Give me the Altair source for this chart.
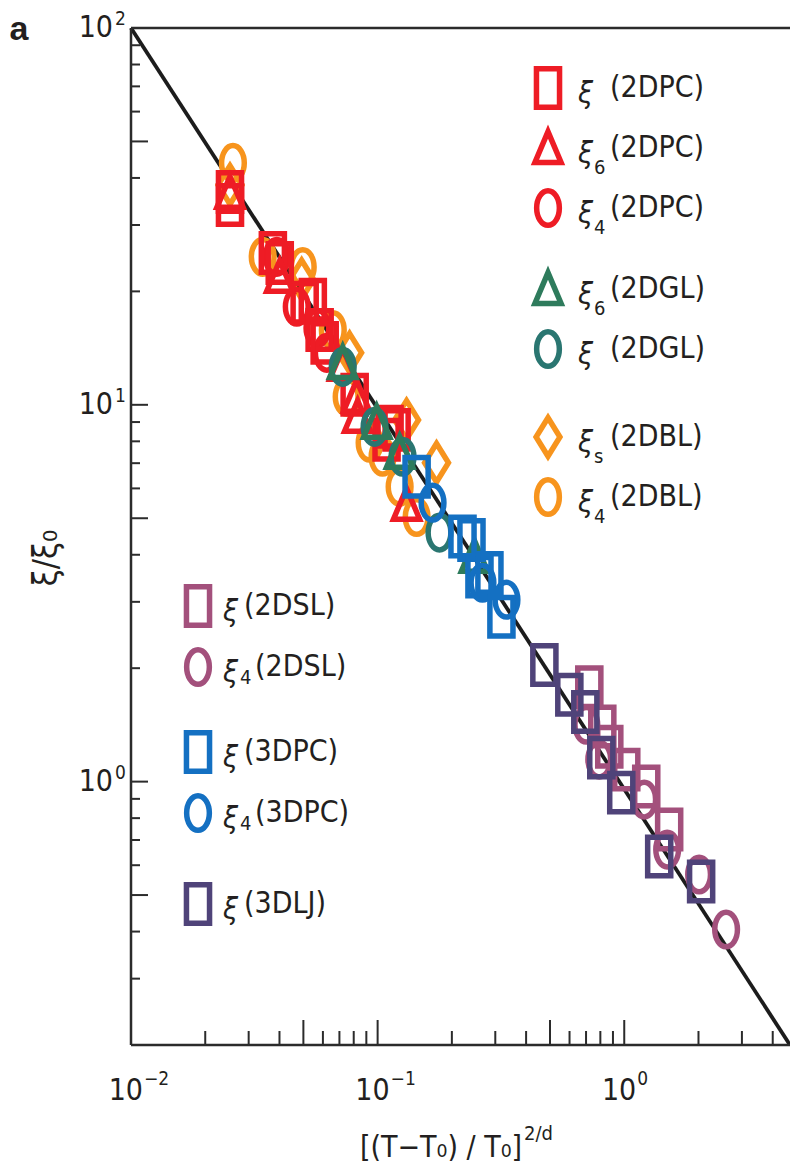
import altair as alt
import pandas as pd

# ---------------- data ----------------
LINE_X = [0.01, 4.7]
LINE_Y = [100.0, 0.2]

PC2_SQ_X = [0.0252, 0.0252, 0.0376, 0.0401, 0.0506, 0.0546, 0.0582, 0.0610, 0.0807, 0.1087, 0.1118, 0.1194]
PC2_SQ_Y = [36.7, 33.9, 25.3, 23.8, 18.65, 19.0, 15.8, 14.6, 10.63, 8.08, 8.74, 8.58]
PC2_TRI_X = [0.0252, 0.0401, 0.0722, 0.0822, 0.0830, 0.1310]
PC2_TRI_Y = [36.5, 21.85, 12.76, 10.5, 9.29, 5.43]
PC2_CIR_X = [0.0390, 0.0470, 0.0570, 0.0622]
PC2_CIR_Y = [24.7, 18.2, 16.0, 13.74]

GL2_TRI_X = [0.0722, 0.0991, 0.1228, 0.2470]
GL2_TRI_Y = [12.9, 8.96, 7.46, 3.95]
GL2_CIR_X = [0.0722, 0.0972, 0.1262, 0.1782]
GL2_CIR_Y = [12.61, 8.74, 7.28, 4.58]

BL2_DIA_X = [0.0252, 0.0492, 0.0770, 0.1310, 0.1733]
BL2_DIA_Y = [38.3, 21.5, 13.74, 9.12, 7.02]
BL2_CIR_X = [0.0259, 0.0342, 0.0497, 0.0658, 0.0749, 0.0928, 0.1047, 0.1228, 0.1439]
BL2_CIR_Y = [43.85, 24.7, 23.2, 15.8, 10.5, 7.93, 7.28, 6.06, 5.04]

PC3_SQ_X = [0.1439, 0.2209, 0.2402, 0.2588, 0.2840, 0.3177]
PC3_SQ_Y = [6.44, 4.47, 4.38, 3.50, 3.58, 2.74]
PC3_CIR_X = [0.1670, 0.2661, 0.3330]
PC3_CIR_Y = [5.50, 3.37, 3.04]

SL2_SQ_X = [0.7217, 0.8147, 0.8696, 1.019, 1.228, 1.521]
SL2_SQ_Y = [1.78, 1.40, 1.238, 1.076, 0.970, 0.746]
SL2_CIR_X = [0.7018, 0.792, 1.205, 1.493, 2.012, 2.588]
SL2_CIR_Y = [1.416, 1.144, 0.896, 0.660, 0.567, 0.405]

LJ3_SQ_X = [0.4744, 0.5989, 0.6953, 0.8072, 0.9725, 1.386, 2.050]
LJ3_SQ_Y = [2.04, 1.70, 1.53, 1.158, 0.935, 0.633, 0.543]

X_LABEL_VALUES = [0.01, 0.1, 1.0]
X_LABEL_EXP = ["\u22122", "\u22121", "0"]
Y_LABEL_VALUES = [100.0, 10.0, 1.0]
Y_LABEL_EXP = ["2", "1", "0"]

TOP_LEG_SHAPE = ["square", "triangle", "circle", "triangle", "circle", "diamond", "circle"]
TOP_LEG_SUB = ["", "6", "4", "6", "", "s", "4"]
TOP_LEG_NAME = ["(2DPC)", "(2DPC)", "(2DPC)", "(2DGL)", "(2DGL)", "(2DBL)", "(2DBL)"]
BOT_LEG_SHAPE = ["square", "circle", "square", "circle", "square"]
BOT_LEG_SUB = ["", "4", "", "4", ""]
BOT_LEG_NAME = ["(2DSL)", "(2DSL)", "(3DPC)", "(3DPC)", "(3DLJ)"]

# ---------------- styles ----------------
RED = "#ee1c25"
GREEN = "#2e7b5c"
TEAL = "#2a7671"
ORANGE = "#f7941d"
BLUE = "#1470c2"
MAUVE = "#a3507c"
DPURP = "#4f4379"
TOP_LEG_COLOR = [RED, RED, RED, GREEN, TEAL, ORANGE, ORANGE]
BOT_LEG_COLOR = [MAUVE, MAUVE, BLUE, BLUE, DPURP]

FONT = "Liberation Sans Narrow, DejaVu Sans Condensed, sans-serif"
TXT = "#231f20"
AX = "#2b2b2b"

W, H = 659, 1017
SYM_SIZE = 1480
SW = 5.5

SHAPES = {
    "square": "M-0.6,-1L0.6,-1L0.6,1L-0.6,1Z",
    "circle": "M0,-0.9C0.326,-0.9,0.59,-0.497,0.59,0C0.59,0.497,0.326,0.9,0,0.9"
              "C-0.326,0.9,-0.59,0.497,-0.59,0C-0.59,-0.497,-0.326,-0.9,0,-0.9Z",
    "triangle": "M0,-0.85L0.68,0.75L-0.68,0.75Z",
    "diamond": "M0,-1L0.62,0L0,1L-0.62,0Z",
}

xs = alt.Scale(type="log", domain=[0.01, 4.7], nice=False)
ys = alt.Scale(type="log", domain=[0.2, 100], nice=False)

one = pd.DataFrame({"k": [0]})

layers = []

# power law line
line_df = pd.DataFrame({"x": LINE_X, "y": LINE_Y})
layers.append(
    alt.Chart(line_df).mark_line(color="#1c1c1c", strokeWidth=3.8).encode(
        x=alt.X("x:Q", scale=xs, axis=None),
        y=alt.Y("y:Q", scale=ys, axis=None),
    )
)

series = [
    (BL2_CIR_X, BL2_CIR_Y, "circle", ORANGE),
    (BL2_DIA_X, BL2_DIA_Y, "diamond", ORANGE),
    (PC2_CIR_X, PC2_CIR_Y, "circle", RED),
    (PC2_SQ_X, PC2_SQ_Y, "square", RED),
    (PC2_TRI_X, PC2_TRI_Y, "triangle", RED),
    (GL2_CIR_X, GL2_CIR_Y, "circle", TEAL),
    (GL2_TRI_X, GL2_TRI_Y, "triangle", GREEN),
    (PC3_CIR_X, PC3_CIR_Y, "circle", BLUE),
    (PC3_SQ_X, PC3_SQ_Y, "square", BLUE),
    (SL2_CIR_X, SL2_CIR_Y, "circle", MAUVE),
    (SL2_SQ_X, SL2_SQ_Y, "square", MAUVE),
    (LJ3_SQ_X, LJ3_SQ_Y, "square", DPURP),
]
for sx, sy, shp, col in series:
    df = pd.DataFrame({"x": sx, "y": sy})
    layers.append(
        alt.Chart(df).mark_point(filled=False, opacity=1, strokeWidth=SW,
                                 size=SYM_SIZE, shape=SHAPES[shp], color=col).encode(
            x=alt.X("x:Q", scale=xs, axis=None),
            y=alt.Y("y:Q", scale=ys, axis=None),
        )
    )

# frame: top, left and bottom lines
layers.append(
    alt.Chart(one).mark_rule(color=AX, strokeWidth=2.5).encode(
        x=alt.value(0), x2=alt.value(W), y=alt.value(0))
)
layers.append(
    alt.Chart(one).mark_rule(color=AX, strokeWidth=2.5).encode(
        x=alt.value(0), x2=alt.value(W), y=alt.value(H))
)
layers.append(
    alt.Chart(one).mark_rule(color=AX, strokeWidth=2.5).encode(
        x=alt.value(0), y=alt.value(0), y2=alt.value(H))
)

# inward ticks
def decade_ticks(lo, hi, mults):
    out = []
    for e in range(-3, 3):
        for m in mults:
            v = m * 10.0 ** e
            if lo * 1.001 < v < hi * 0.999:
                out.append(v)
    return out

xt_long = decade_ticks(0.01, 4.7, [1, 5])
xt_short = decade_ticks(0.01, 4.7, [2, 3, 4, 6, 7, 8, 9])
yt_long = decade_ticks(0.2, 100, [1, 5])
yt_short = decade_ticks(0.2, 100, [2, 3, 4, 6, 7, 8, 9])

for vals, ln in [(xt_long, 25), (xt_short, 14)]:
    layers.append(
        alt.Chart(pd.DataFrame({"v": vals})).mark_rule(color=AX, strokeWidth=2).encode(
            x=alt.X("v:Q", scale=xs, axis=None),
            y=alt.value(H), y2=alt.value(H - ln),
        )
    )
for vals, ln in [(yt_long, 17), (yt_short, 9)]:
    layers.append(
        alt.Chart(pd.DataFrame({"v": vals})).mark_rule(color=AX, strokeWidth=2).encode(
            y=alt.Y("v:Q", scale=ys, axis=None),
            x=alt.value(0), x2=alt.value(ln),
        )
    )

# tick labels (10 with superscript exponent)
xl_df = pd.DataFrame({"v": X_LABEL_VALUES, "sup": X_LABEL_EXP})
layers.append(
    alt.Chart(xl_df).mark_text(align="right", baseline="middle", dx=12, fontSize=30,
                               font=FONT, color=TXT).encode(
        x=alt.X("v:Q", scale=xs, axis=None), y=alt.value(H + 46), text=alt.value("10"))
)
layers.append(
    alt.Chart(xl_df).mark_text(align="left", baseline="middle", dx=13, fontSize=19,
                               font=FONT, color=TXT).encode(
        x=alt.X("v:Q", scale=xs, axis=None), y=alt.value(H + 34), text="sup:N")
)
yl_df = pd.DataFrame({"v": Y_LABEL_VALUES, "sup": Y_LABEL_EXP})
layers.append(
    alt.Chart(yl_df).mark_text(align="right", baseline="middle", fontSize=30,
                               font=FONT, color=TXT).encode(
        y=alt.Y("v:Q", scale=ys, axis=None), x=alt.value(-18), text=alt.value("10"))
)
layers.append(
    alt.Chart(yl_df).mark_text(align="left", baseline="middle", dy=-9, fontSize=19,
                               font=FONT, color=TXT).encode(
        y=alt.Y("v:Q", scale=ys, axis=None), x=alt.value(-16), text="sup:N")
)

# axis titles and panel letter
def label(text, x, y, size, align="center", angle=None, style=None, weight=None, font=FONT):
    kw = dict(align=align, baseline="middle", fontSize=size, font=font, color=TXT)
    if angle is not None:
        kw["angle"] = angle
    if style:
        kw["fontStyle"] = style
    if weight:
        kw["fontWeight"] = weight
    return alt.Chart(one).mark_text(**kw).encode(
        x=alt.value(x), y=alt.value(y), text=alt.value(text))

layers.append(label("[(T\u2212T\u2080) / T\u2080]", 391, 1120, 30, align="right"))
layers.append(label("2/d", 393, 1106, 20, align="left"))
layers.append(label("\u03be/\u03be\u2080", -84, 530, 34, angle=270))
layers.append(label("a", -112, 2, 34, weight="bold", font="Liberation Sans, sans-serif"))

# custom legends
def legend(shapes, colors, subs, names, ys_pix, sym_x, xi_x, sub_x, sub_dy, name_x, name_x_sub):
    df = pd.DataFrame({
        "path": [SHAPES[s] for s in shapes],
        "col": colors,
        "sub": subs,
        "name": names,
        "ly": ys_pix,
        "nx": [name_x_sub if s else name_x for s in subs],
    })
    out = []
    out.append(alt.Chart(df).mark_point(filled=False, opacity=1, strokeWidth=SW, size=SYM_SIZE).encode(
        x=alt.value(sym_x), y=alt.Y("ly:Q", scale=None),
        shape=alt.Shape("path:N", scale=None, legend=None),
        color=alt.Color("col:N", scale=None, legend=None)))
    out.append(alt.Chart(df).mark_text(align="left", baseline="middle", fontSize=30, font=FONT,
                                       fontStyle="italic", color=TXT, dy=6).encode(
        x=alt.value(xi_x), y=alt.Y("ly:Q", scale=None), text=alt.value("\u03be")))
    out.append(alt.Chart(df).mark_text(align="left", baseline="middle", fontSize=20, font=FONT,
                                       color=TXT, dy=sub_dy).encode(
        x=alt.value(sub_x), y=alt.Y("ly:Q", scale=None), text="sub:N"))
    out.append(alt.Chart(df).mark_text(align="left", baseline="middle", fontSize=30, font=FONT,
                                       color=TXT).encode(
        x=alt.X("nx:Q", scale=None), y=alt.Y("ly:Q", scale=None), text="name:N"))
    return out

top_y = [60, 120, 180, 261, 321, 409, 469]
bot_y = [578, 639, 724, 785, 876]
layers += legend(TOP_LEG_SHAPE, TOP_LEG_COLOR, TOP_LEG_SUB, TOP_LEG_NAME, top_y,
                 417, 447, 463, 20, 479, 479)
layers += legend(BOT_LEG_SHAPE, BOT_LEG_COLOR, BOT_LEG_SUB, BOT_LEG_NAME, bot_y,
                 67, 92, 109, 11, 113, 124)

chart = alt.layer(*layers).properties(
    width=W, height=H,
    autosize=alt.AutoSizeParams(type="none"),
    padding={"left": 131, "top": 28, "right": 0, "bottom": 124},
).configure_view(stroke=None)

chart.save("out.html", embed_options={"renderer": "svg", "actions": False})
